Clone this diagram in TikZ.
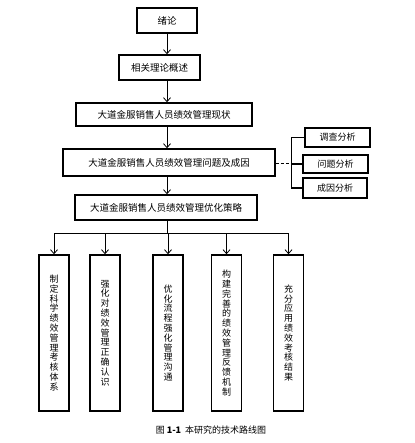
\documentclass[tikz,border=0pt]{standalone}
\usepackage{fontspec}
\newfontfamily\cjk{Noto Sans CJK SC}
\usetikzlibrary{arrows.meta}
\begin{document}
\begin{tikzpicture}[x=1pt,y=-1pt,
  box/.style={draw, line width=1.5pt, inner sep=0pt, font=\cjk\fontsize{9.5}{10}\selectfont},
  sbox/.style={draw, line width=1.3pt, inner sep=0pt, font=\cjk\fontsize{9}{10}\selectfont},
  vbox/.style={draw, line width=1.5pt, inner sep=0pt, minimum width=30pt, minimum height=156pt, align=center, font=\cjk\fontsize{9}{9.8}\selectfont},
  conn/.style={line width=0.8pt},
  arr/.style={line width=0.8pt, -{Straight Barb[length=4pt,width=7pt,line width=0.8pt]}}]
\useasboundingbox (0,0) rectangle (414,443);
% main column
\node[box, minimum width=60pt, minimum height=25pt] (n1) at (167,20.5) {绪论};
\node[box, minimum width=81pt, minimum height=25pt] (n2) at (159.5,67.5) {相关理论概述};
\node[box, minimum width=176pt, minimum height=23pt] (n3) at (164,114.5) {大道金服销售人员绩效管理现状};
\node[box, minimum width=212pt, minimum height=27pt] (n4) at (169,162.5) {大道金服销售人员绩效管理问题及成因};
\node[box, minimum width=182pt, minimum height=25pt] (n5) at (166,207.5) {大道金服销售人员绩效管理优化策略};
\coordinate (sp) at (167,0);
\draw[arr] (sp |- n1.south) -- (sp |- n2.north);
\draw[arr] (sp |- n2.south) -- (sp |- n3.north);
\draw[arr] (sp |- n3.south) -- (sp |- n4.north);
\draw[arr] (sp |- n4.south) -- (sp |- n5.north);
% right branch
\node[sbox, minimum width=65pt, minimum height=19pt] (r1) at (337.5,137.5) {调查分析};
\node[sbox, minimum width=65pt, minimum height=18pt] (r2) at (335.5,164) {问题分析};
\node[sbox, minimum width=64pt, minimum height=20pt] (r3) at (335,188) {成因分析};
\coordinate (br) at (291,163);
\draw[conn, densely dashed] (n4.east |- br) -- (br);
\draw[conn] (br |- r1.west) -- (br |- r3.west);
\draw[line width=1.2pt] (br |- r1.west) -- (r1.west);
\draw[line width=1.2pt] (br |- r2.west) -- (r2.west);
\draw[line width=1.2pt] (br |- r3.west) -- (r3.west);
% bottom row
\node[vbox] (b1) at (54,333) {制\\定\\科\\学\\绩\\效\\管\\理\\考\\核\\体\\系};
\node[vbox] (b2) at (105,333) {强\\化\\对\\绩\\效\\管\\理\\正\\确\\认\\识};
\node[vbox] (b3) at (168,333) {优\\化\\流\\程\\强\\化\\管\\理\\沟\\通};
\node[vbox] (b4) at (226.5,333) {构\\建\\完\\善\\的\\绩\\效\\管\\理\\反\\馈\\机\\制};
\node[vbox] (b5) at (288.5,333) {充\\分\\应\\用\\绩\\效\\考\\核\\结\\果};
\coordinate (dl) at (167,233);
\draw[conn] (sp |- n5.south) -- (dl);
\draw[conn] (b1.north |- dl) -- (b5.north |- dl);
\foreach \b in {b1,b2,b3,b4,b5} \draw[arr] (\b.north |- dl) -- (\b.north);
% caption
\node[font=\cjk\fontsize{9}{10}\selectfont, inner sep=0pt] (cap) at (211,430) {图 \textbf{1-1}\ \ 本研究的技术路线图};
\end{tikzpicture}
\end{document}
